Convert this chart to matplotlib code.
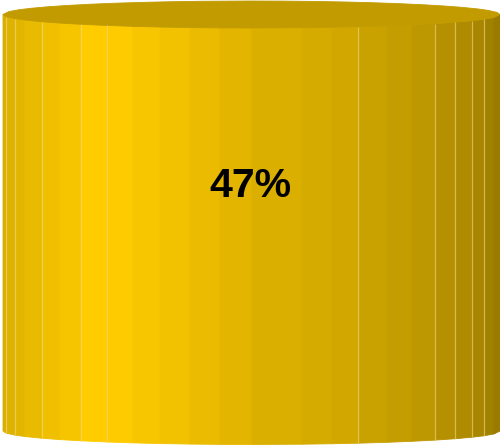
import numpy as np
import matplotlib
matplotlib.use("Agg")
import matplotlib.pyplot as plt
from matplotlib.patches import Polygon

# Gauge value shown on the cylinder
value_pct = 47
label_text = f"{value_pct}%"

# Cylinder geometry (canvas units, y grows downward)
CX, RX = 251.5, 248.5
TOP_CY, BOT_CY, RY = 14.5, 431.0, 13.5

# Facet edges across the visible front of the cylinder, with their shades
facet_edges = [3, 6, 15, 25, 42, 60, 81, 107, 133, 160, 190, 220, 252, 302,
               332, 358, 387, 412, 435, 455, 472, 484, 494, 500]
facet_colors = ["#D8AE00", "#DDB200", "#E2B600", "#E8BA00", "#F0C000", "#F6C500",
                "#FFCC00", "#FECB00", "#F8C600", "#F2C200", "#EABB00", "#E3B500",
                "#DBAF00", "#D6AB00", "#D2A800", "#CAA200", "#C49D00", "#BE9800",
                "#B59000", "#AE8B00", "#A88600", "#A18100", "#9A7B00"]
# Edges that carry a faint highlight stroke
highlight_edges = [6, 15, 42, 81, 107, 358, 435, 455, 472, 484]
TOP_COLOR = "#C29B00"


def front_y(x, cy):
    t = np.clip((x - CX) / RX, -1.0, 1.0)
    return cy + RY * np.sqrt(1.0 - t * t)


def back_y(x, cy):
    t = np.clip((x - CX) / RX, -1.0, 1.0)
    return cy - RY * np.sqrt(1.0 - t * t)


fig = plt.figure(figsize=(5.0, 4.45), dpi=100)
ax = fig.add_axes([0, 0, 1, 1])
ax.set_xlim(0, 500)
ax.set_ylim(445, 0)
ax.axis("off")

# Side facets (flat panels: straight top and bottom edges)
for i, c in enumerate(facet_colors):
    x0, x1 = facet_edges[i], facet_edges[i + 1]
    pts = [(x0, front_y(x0, TOP_CY)), (x1, front_y(x1, TOP_CY)),
           (x1, front_y(x1, BOT_CY)), (x0, front_y(x0, BOT_CY))]
    ax.add_patch(Polygon(pts, closed=True, facecolor=c, edgecolor=c,
                         linewidth=0.6, antialiased=True))

# Highlight strokes on some facet edges
for x in highlight_edges:
    ax.plot([x, x], [front_y(x, TOP_CY), front_y(x, BOT_CY)],
            color="#F2D679", linewidth=0.9, alpha=0.65, solid_capstyle="butt")

# Top face as a polygon through the facet corners (front and back)
edges = np.array(facet_edges, dtype=float)
back_edges = (2 * CX - edges)[::-1]
top_front = [(x, front_y(x, TOP_CY)) for x in edges]
top_back = [(x, back_y(x, TOP_CY)) for x in sorted(back_edges, reverse=True)]
ax.add_patch(Polygon(top_front[::-1] + top_back[::-1], closed=True,
                     facecolor=TOP_COLOR, edgecolor=TOP_COLOR, linewidth=0.6))

# Value label
ax.text(250, 186, label_text, ha="center", va="center", fontsize=29.5,
        fontweight="bold", color="black", family="Liberation Sans")

fig.savefig("out.png", dpi=100)
